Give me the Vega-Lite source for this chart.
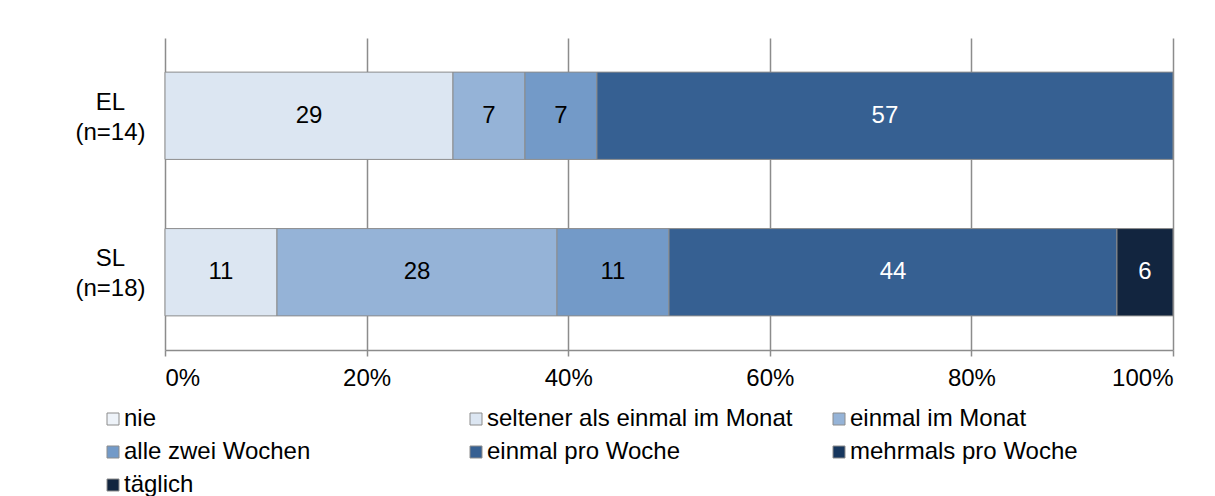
{
  "$schema": "https://vega.github.io/schema/vega-lite/v6.json",
  "autosize": "none",
  "width": 1008,
  "height": 312,
  "padding": {"left": 165, "top": 38, "right": 42, "bottom": 146},
  "background": "white",
  "config": {"view": {"stroke": null}, "font": "Liberation Sans"},
  "data": {
    "values": [
      {"gruppe": "EL|(n=14)", "kategorie": "seltener als einmal im Monat", "anteil": 28.57},
      {"gruppe": "EL|(n=14)", "kategorie": "einmal im Monat", "anteil": 7.14},
      {"gruppe": "EL|(n=14)", "kategorie": "alle zwei Wochen", "anteil": 7.14},
      {"gruppe": "EL|(n=14)", "kategorie": "einmal pro Woche", "anteil": 57.15},
      {"gruppe": "SL|(n=18)", "kategorie": "seltener als einmal im Monat", "anteil": 11.11},
      {"gruppe": "SL|(n=18)", "kategorie": "einmal im Monat", "anteil": 27.78},
      {"gruppe": "SL|(n=18)", "kategorie": "alle zwei Wochen", "anteil": 11.11},
      {"gruppe": "SL|(n=18)", "kategorie": "einmal pro Woche", "anteil": 44.44},
      {"gruppe": "SL|(n=18)", "kategorie": "täglich", "anteil": 5.56}
    ]
  },
  "transform": [
    {"stack": "anteil", "groupby": ["gruppe"], "as": ["x0", "x1"]},
    {"calculate": "(datum.x0 + datum.x1) / 2", "as": "xmitte"}
  ],
  "encoding": {
    "y": {
      "field": "gruppe",
      "type": "nominal",
      "sort": null,
      "scale": {"paddingInner": 0.442, "paddingOuter": 0.218},
      "axis": {
        "title": null,
        "ticks": false,
        "domain": false,
        "labelAlign": "center",
        "labelBaseline": "middle",
        "labelPadding": 55,
        "labelOffset": -13,
        "labelFontSize": 24,
        "labelColor": "black",
        "labelLineHeight": 30,
        "labelExpr": "split(datum.label, '|')"
      }
    }
  },
  "layer": [
    {
      "mark": {"type": "bar", "stroke": "#8c8c8c", "strokeWidth": 1},
      "encoding": {
        "x": {
          "field": "x0",
          "type": "quantitative",
          "scale": {"domain": [0, 100], "nice": false},
          "axis": {
            "title": null,
            "values": [0, 20, 40, 60, 80, 100],
            "labelExpr": "datum.value + '%'",
            "grid": true,
            "gridColor": "#8c8c8c",
            "gridWidth": 1.5,
            "domainColor": "#8c8c8c",
            "domainWidth": 1.5,
            "tickColor": "#8c8c8c",
            "tickWidth": 1.5,
            "tickSize": 6,
            "labelPadding": 10,
            "labelFontSize": 24,
            "labelColor": "black"
          }
        },
        "x2": {"field": "x1"},
        "color": {
          "field": "kategorie",
          "type": "nominal",
          "scale": {
            "domain": ["nie", "seltener als einmal im Monat", "einmal im Monat", "alle zwei Wochen", "einmal pro Woche", "mehrmals pro Woche", "täglich"],
            "range": ["#eef3f9", "#dce6f2", "#95b3d7", "#739ac8", "#366092", "#17375e", "#12253f"]
          },
          "legend": {
            "orient": "none",
            "legendX": -64,
            "legendY": 369,
            "columns": 3,
            "direction": "horizontal",
            "title": null,
            "padding": 0,
            "symbolType": "square",
            "symbolSize": 144,
            "symbolStrokeColor": "#8c8c8c",
            "symbolStrokeWidth": 1,
            "symbolOpacity": 1,
            "labelFontSize": 24,
            "labelColor": "black",
            "labelOffset": -1,
            "labelLimit": 500,
            "rowPadding": 9,
            "columnPadding": 34,
            "gridAlign": "all"
          }
        }
      }
    },
    {
      "mark": {"type": "text", "fontSize": 24, "baseline": "middle", "align": "center"},
      "encoding": {
        "x": {"field": "xmitte", "type": "quantitative"},
        "text": {"field": "anteil", "type": "quantitative", "format": ".0f"},
        "color": {
          "condition": {"test": "datum.kategorie === 'einmal pro Woche' || datum.kategorie === 'täglich'", "value": "white"},
          "value": "black"
        }
      }
    }
  ]
}
